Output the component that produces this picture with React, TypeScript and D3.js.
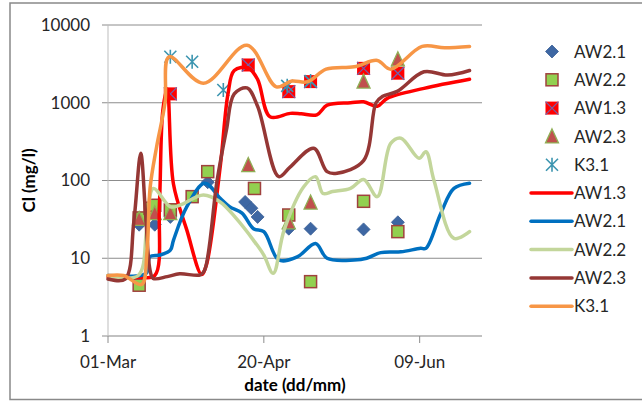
import React from 'react';
import * as d3 from 'd3';

const BASE = Date.UTC(2011, 2, 1);
const X_END_DAY = 120;
const xTickDays = [0, 50, 100];
const xTickLabels = ['01-Mar', '20-Apr', '09-Jun'];
const yTicks = [1, 10, 100, 1000, 10000];
const yTickLabels = ['1', '10', '100', '1000', '10000'];

// observed points: [day since 01-Mar, Cl mg/l]
const aw21Obs: [number, number][] = [
  [10, 27], [15, 27], [20, 34], [32, 95], [44, 53], [46, 44], [48, 34], [58, 24], [65, 24], [82, 23.5], [93, 29],
];
const aw22Obs: [number, number][] = [
  [10, 4.5], [10, 33], [13.5, 44], [15, 48], [20, 42], [27, 62], [32, 130], [47, 79], [58, 36], [65, 5], [82, 54], [93, 22],
];
const aw13Obs: [number, number][] = [
  [20, 1300], [45, 3060], [58, 1390], [65, 1870], [82, 2770], [93, 2400],
];
const aw23Obs: [number, number][] = [
  [10, 32], [15, 38], [20, 38], [45, 158], [58, 29], [65, 52], [82, 1870], [93, 3620],
];
const k31Obs: [number, number][] = [
  [20, 3900], [27, 3370], [37, 1460], [57.5, 1650], [65, 1900],
];

// simulated lines
const aw13Line: [number, number][] = [
  [0, 5.8], [10, 5.7], [15, 6], [16.5, 50], [17.6, 800], [19, 1500], [21, 90], [25.3, 23], [30, 6.2],
  [31.5, 8], [36, 150], [38.5, 1300], [40.5, 2600], [45, 2800], [48, 2000], [52, 660], [58.5, 730], [62, 720],
  [67, 700], [70.3, 930], [77.8, 1000], [82, 1030], [86.4, 900], [89.6, 1140], [101.4, 1530], [116, 2000],
];
const aw21Line: [number, number][] = [
  [0, 6], [10.5, 6], [12.4, 6.5], [13.5, 10.5], [16.7, 11], [20, 12.7], [21, 17], [25.3, 46], [31, 92],
  [36, 59], [39, 46], [43, 38], [46.7, 24], [50, 22], [54.8, 9.5], [60.7, 10.4], [66.6, 15.5], [70.3, 10],
  [79, 9.5], [83, 10], [87.5, 11.8], [94, 12.1], [100.3, 13.4], [102, 13.4], [106.8, 38], [111, 79], [116, 92],
];
const aw22Line: [number, number][] = [
  [0, 6], [9.7, 6], [12.4, 23], [14.5, 79], [20, 46], [23, 48], [30.6, 65], [36, 53], [41, 33], [46.7, 17],
  [50, 11], [53, 6.4], [56.5, 23], [62.8, 83], [66.6, 112], [69, 68], [72, 72], [77.8, 79], [82, 103],
  [86.4, 62], [90.7, 300], [94, 350], [99.8, 193], [102, 235], [104.6, 100], [111, 18], [116, 22],
];
const aw23Line: [number, number][] = [
  [0, 5.4], [5.5, 5.4], [8.3, 30], [10.5, 224], [12, 40], [13.5, 7], [14.5, 5.5], [19, 5.8], [23, 6.3],
  [29.6, 6.1], [31, 7], [35, 100], [38, 446], [40.5, 1300], [44.6, 1550], [48, 900], [54.8, 112], [58.5, 150],
  [66, 260], [70.3, 130], [73.5, 124], [82, 180], [86, 1000], [88, 1200], [92.8, 1400], [101.4, 2500],
  [109, 2270], [116, 2600],
];
const k31Line: [number, number][] = [
  [0, 6], [5, 6], [10.8, 4.6], [12.5, 12], [13.5, 80], [15.6, 272], [18.3, 1000], [19.6, 3900], [30.6, 1780],
  [44.6, 5500], [54, 1600], [59, 1900], [64, 1860], [70, 2700], [79, 2900], [86.4, 3500], [90.7, 2700],
  [100.8, 5300], [108, 5100], [116, 5300],
];

const markerSeries = [
  { name: 'AW2.1', data: aw21Obs, kind: 'diamond' },
  { name: 'AW2.2', data: aw22Obs, kind: 'square' },
  { name: 'AW1.3', data: aw13Obs, kind: 'xsquare' },
  { name: 'AW2.3', data: aw23Obs, kind: 'triangle' },
  { name: 'K3.1', data: k31Obs, kind: 'star' },
];
const lineSeries = [
  { name: 'AW1.3', data: aw13Line, color: '#FF0000' },
  { name: 'AW2.1', data: aw21Line, color: '#0070C0' },
  { name: 'AW2.2', data: aw22Line, color: '#C3D69B' },
  { name: 'AW2.3', data: aw23Line, color: '#953735' },
  { name: 'K3.1', data: k31Line, color: '#F79646' },
];

const W = 642, H = 402;
const PL = 108, PR = 482, PT = 25, PB = 336;
const FONT = 'Lato, "Open Sans", sans-serif';

const toDate = (d: number) => new Date(BASE + d * 864e5);

function Marker({ kind, x, y }: { kind: string; x: number; y: number }) {
  if (kind === 'diamond') {
    const s = 6.5;
    return <path d={`M${x},${y - s}L${x + s},${y}L${x},${y + s}L${x - s},${y}Z`} fill="#3E67A3" stroke="#3A5F96" strokeWidth={0.8} />;
  }
  if (kind === 'square') {
    const s = 6;
    return <rect x={x - s} y={y - s} width={2 * s} height={2 * s} fill="#92D050" stroke="#A0413E" strokeWidth={1.5} />;
  }
  if (kind === 'xsquare') {
    const s = 6.5;
    return (
      <g>
        <rect x={x - s} y={y - s} width={2 * s} height={2 * s} fill="#FF0000" />
        <path d={`M${x - s},${y - s}L${x + s},${y + s}M${x + s},${y - s}L${x - s},${y + s}`} stroke="#7460A8" strokeWidth={1.3} />
      </g>
    );
  }
  if (kind === 'triangle') {
    const s = 6.5;
    return <path d={`M${x},${y - s - 1}L${x + s},${y + s}L${x - s},${y + s}Z`} fill="#C0504D" stroke="#8FAF55" strokeWidth={1.3} />;
  }
  const s = 6;
  return (
    <path
      d={`M${x - s},${y - s}L${x + s},${y + s}M${x + s},${y - s}L${x - s},${y + s}M${x},${y - s - 1}L${x},${y + s + 1}`}
      stroke="#3C95B0" strokeWidth={1.6} fill="none"
    />
  );
}

export default function App() {
  const x = d3.scaleUtc().domain([toDate(0), toDate(X_END_DAY)]).range([PL, PR]);
  const y = d3.scaleLog().domain([1, 10000]).range([PB, PT]);
  const line = d3
    .line<[number, number]>()
    .x((d) => x(toDate(d[0])))
    .y((d) => y(d[1]))
    .curve(d3.curveCatmullRom.alpha(0.5));

  const legendRow = 28.3;
  const legendY0 = 51.5;
  const legendItems = [
    ...markerSeries.map((m) => ({ type: 'marker', name: m.name, kind: m.kind, color: '' })),
    ...lineSeries.map((l) => ({ type: 'line', name: l.name, kind: '', color: l.color })),
  ];

  return (
    <svg width={W} height={H} style={{ position: 'absolute', left: 0, top: 0, background: '#fff' }} fontFamily={FONT}>
      <rect x={10} y={3} width={W} height={396.5} fill="#fff" stroke="#898989" strokeWidth={1.5} />
      {/* gridlines */}
      {yTicks.map((t) => (
        <line key={t} x1={PL - 6} x2={PR} y1={y(t)} y2={y(t)} stroke="#8C8C8C" strokeWidth={1} />
      ))}
      <line x1={PL} x2={PL} y1={PT} y2={PB} stroke="#BDBDBD" strokeWidth={1} />
      <line x1={PL} x2={PR} y1={PB} y2={PB} stroke="#BDBDBD" strokeWidth={1} />
      {xTickDays.map((d) => (
        <line key={d} x1={x(toDate(d))} x2={x(toDate(d))} y1={PB} y2={PB + 7} stroke="#8C8C8C" strokeWidth={1} />
      ))}
      {yTicks.map((t, i) => (
        <text key={t} x={90} y={y(t)} dy="0.35em" textAnchor="end" fontSize={17} fill="#262626">
          {yTickLabels[i]}
        </text>
      ))}
      {xTickDays.map((d, i) => (
        <text key={d} x={x(toDate(d))} y={368} textAnchor="middle" fontSize={17} fill="#262626">
          {xTickLabels[i]}
        </text>
      ))}
      <text x={(PL + PR) / 2} y={391} textAnchor="middle" fontSize={17} fontWeight="bold" fill="#000">
        date (dd/mm)
      </text>
      <text transform={`translate(35,${(PT + PB) / 2}) rotate(-90)`} textAnchor="middle" fontSize={17} fontWeight="bold" fill="#000">
        Cl (mg/l)
      </text>
      {/* markers */}
      {markerSeries.map((m) => (
        <g key={m.name + 'm'}>
          {m.data.map((d, i) => (
            <Marker key={i} kind={m.kind} x={x(toDate(d[0]))} y={y(d[1])} />
          ))}
        </g>
      ))}
      {/* lines */}
      {lineSeries.map((l) => (
        <path key={l.name + 'l'} d={line(l.data) || ''} fill="none" stroke={l.color} strokeWidth={3.5} strokeLinejoin="round" strokeLinecap="round" />
      ))}
      {/* legend */}
      {legendItems.map((it, i) => {
        const cy = legendY0 + i * legendRow;
        return (
          <g key={i}>
            {it.type === 'marker' ? (
              <Marker kind={it.kind} x={552} y={cy} />
            ) : (
              <line x1={531} x2={572} y1={cy} y2={cy} stroke={it.color} strokeWidth={3.5} strokeLinecap="round" />
            )}
            <text x={574} y={cy} dy="0.36em" fontSize={17} fill="#262626">
              {it.name}
            </text>
          </g>
        );
      })}
    </svg>
  );
}
